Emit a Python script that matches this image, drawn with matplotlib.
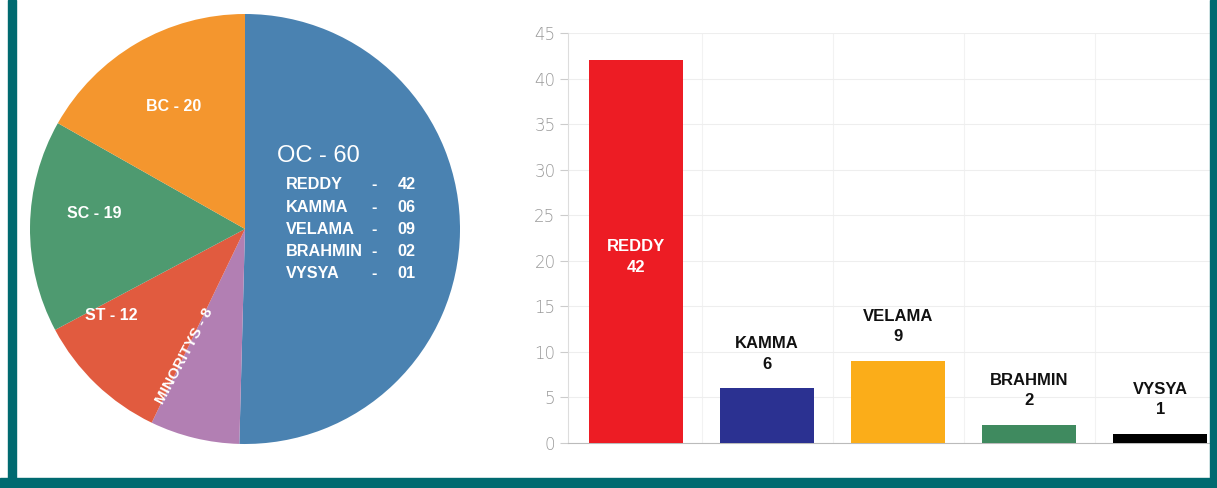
import matplotlib
matplotlib.use("Agg")
import matplotlib.pyplot as plt
from matplotlib.patches import Rectangle

plt.rcParams['font.family'] = ['Liberation Sans', 'DejaVu Sans']

# pie data (clockwise from 12 o'clock)
pie_labels = ["OC", "MINORITYS", "ST", "SC", "BC"]
pie_values = [60, 8, 12, 19, 20]
pie_colors = ["#4a82b1", "#b27fb3", "#e15b3f", "#4e9a70", "#f4962e"]

# OC break-up shown in the bar chart
castes = ["REDDY", "KAMMA", "VELAMA", "BRAHMIN", "VYSYA"]
caste_counts = [42, 6, 9, 2, 1]
caste_colors = ["#ed1c24", "#2b3191", "#fbad19", "#3f8a5f", "#000000"]
y_ticks = [0, 5, 10, 15, 20, 25, 30, 35, 40, 45]

W, H = 1217, 488
fig = plt.figure(figsize=(W / 100, H / 100), dpi=100)
fig.patch.set_facecolor("white")

# teal frame
frame = "#006a70"
fig.patches.append(Rectangle((8 / W, 0), 8 / W, 1, transform=fig.transFigure, color=frame))
fig.patches.append(Rectangle((1210 / W, 0), 7 / W, 1, transform=fig.transFigure, color=frame))
fig.patches.append(Rectangle((0, 0), 1, 10 / H, transform=fig.transFigure, color=frame))

# ---- pie ----
cx, cy, r = 245, 229, 215
ax1 = fig.add_axes([(cx - r) / W, (H - cy - r) / H, 2 * r / W, 2 * r / H])
ax1.pie(pie_values, colors=pie_colors, startangle=90, counterclock=False,
        wedgeprops=dict(linewidth=0))
ax1.set_xlim(-1, 1)
ax1.set_ylim(-1, 1)
ax1.set_aspect("auto")
ax1.axis("off")

lab = dict(color="white", fontweight="bold", fontsize=11.5, ha="center", va="center")
vals = dict(zip(pie_labels, pie_values))
ax1.text(-0.33, 0.57, "BC - %d" % vals["BC"], **lab)
ax1.text(-0.70, 0.07, "SC - %d" % vals["SC"], **lab)
ax1.text(-0.62, -0.40, "ST - %d" % vals["ST"], **lab)
lab["fontsize"] = 11
ax1.text(-0.28, -0.59, "MINORITYS - %d" % vals["MINORITYS"], rotation=62,
         rotation_mode="anchor", **lab)
ax1.text(0.34, 0.34, "OC - %d" % vals["OC"], color="white", fontsize=17,
         ha="center", va="center")
for i, (c, n) in enumerate(zip(castes, caste_counts)):
    yy = 0.205 - i * 0.103
    ax1.text(0.19, yy, c, color="white", fontweight="bold", fontsize=11.7, va="center")
    ax1.text(0.59, yy, "-", color="white", fontweight="bold", fontsize=11.7, va="center")
    ax1.text(0.71, yy, "%02d" % n, color="white", fontweight="bold", fontsize=11.7, va="center")

# ---- bars ----
ax2 = fig.add_axes([568 / W, 45 / H, 642 / W, 410 / H])
x = range(len(castes))
ax2.bar(x, caste_counts, width=0.72, color=caste_colors, zorder=3)
ax2.set_xlim(-0.52, 4.38)
ax2.set_ylim(0, 45)
ax2.set_yticks(y_ticks)
ax2.set_xticks([])
ax2.set_xticks([0.5, 1.5, 2.5, 3.5], minor=True)
ax2.tick_params(axis="x", which="minor", length=0)
ax2.grid(True, axis="y", color="#eeeeee", linewidth=0.8, zorder=0)
ax2.grid(True, axis="x", which="minor", color="#f2f2f2", linewidth=0.8, zorder=0)
for s in ["top", "right"]:
    ax2.spines[s].set_visible(False)
ax2.spines["left"].set_color("#dddddd")
ax2.spines["bottom"].set_color("#bbbbbb")
ax2.tick_params(axis="y", colors="#cccccc", length=6, pad=3, labelsize=12,
                labelcolor="#999999")
for t in ax2.get_yticklabels():
    t.set_family(["Liberation Sans Narrow", "DejaVu Sans"])
    t.set_fontweight("light")

for i, (c, n) in enumerate(zip(castes, caste_counts)):
    if n > 20:
        ax2.text(i, n / 2 - 0.6, "%s\n%d" % (c, n), color="white", fontweight="bold",
                 fontsize=12, ha="center", va="center", linespacing=1.55, zorder=4)
    else:
        ax2.annotate("%s\n%d" % (c, n), (i, n), xytext=(0, 12), textcoords="offset points",
                     color="#111111", fontweight="bold", fontsize=12, ha="center",
                     va="bottom", linespacing=1.45, zorder=4)

fig.savefig("out.png", dpi=100, facecolor="white")
